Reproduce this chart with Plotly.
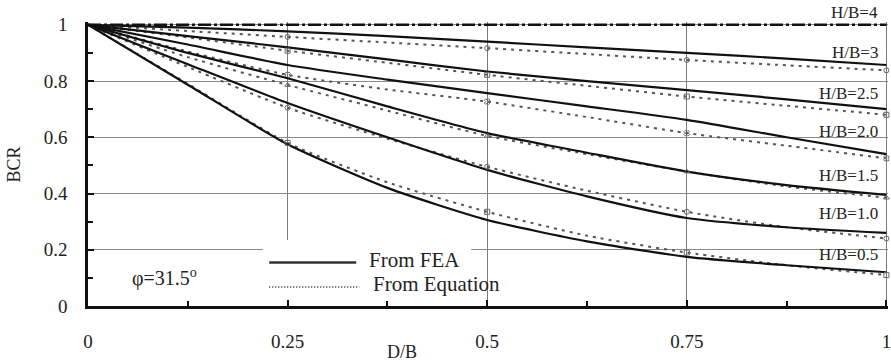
import plotly.graph_objects as go

# D/B positions where BCR was evaluated
d_over_b = [0.0, 0.125, 0.25, 0.375, 0.5, 0.625, 0.75, 0.875, 1.0]

# BCR from finite element analysis
fea_hb4 = [1.0, 1.0, 1.0, 1.0, 1.0, 1.0, 1.0, 1.0, 1.0]
fea_hb3 = [1.0, 0.990, 0.977, 0.960, 0.940, 0.920, 0.900, 0.880, 0.857]
fea_hb25 = [1.0, 0.960, 0.920, 0.877, 0.834, 0.800, 0.768, 0.735, 0.700]
fea_hb2 = [1.0, 0.930, 0.857, 0.805, 0.757, 0.710, 0.662, 0.600, 0.540]
fea_hb15 = [1.0, 0.900, 0.810, 0.710, 0.615, 0.545, 0.478, 0.430, 0.395]
fea_hb1 = [1.0, 0.860, 0.722, 0.600, 0.484, 0.390, 0.313, 0.280, 0.260]
fea_hb05 = [1.0, 0.787, 0.575, 0.420, 0.306, 0.230, 0.175, 0.145, 0.120]

# BCR from the design equation
eq_hb3 = [1.0, 0.978, 0.957, 0.937, 0.917, 0.896, 0.875, 0.856, 0.838]
eq_hb25 = [1.0, 0.955, 0.908, 0.865, 0.822, 0.783, 0.745, 0.712, 0.680]
eq_hb2 = [1.0, 0.905, 0.822, 0.770, 0.727, 0.672, 0.615, 0.570, 0.525]
eq_hb15 = [1.0, 0.885, 0.786, 0.695, 0.605, 0.540, 0.478, 0.425, 0.385]
eq_hb1 = [1.0, 0.850, 0.705, 0.595, 0.495, 0.410, 0.335, 0.280, 0.240]
eq_hb05 = [1.0, 0.790, 0.580, 0.440, 0.335, 0.250, 0.190, 0.145, 0.110]

curve_labels = ["H/B=4", "H/B=3", "H/B=2.5", "H/B=2.0", "H/B=1.5", "H/B=1.0", "H/B=0.5"]
x_tick_vals = [0, 0.25, 0.5, 0.75, 1]
x_tick_text = ["0", "0.25", "0.5", "0.75", "1"]
y_tick_vals = [0, 0.2, 0.4, 0.6, 0.8, 1]
y_tick_text = ["0", "0.2", "0.4", "0.6", "0.8", "1"]

SERIF = "Liberation Serif, Times New Roman, serif"
INK = "#222222"

fea_sets = [fea_hb3, fea_hb25, fea_hb2, fea_hb15, fea_hb1, fea_hb05]
eq_sets = [eq_hb3, eq_hb25, eq_hb2, eq_hb15, eq_hb1, eq_hb05]
eq_symbols = ["circle-open", "square-open", "x-open", "triangle-up-open", "circle-open", "square-open"]

fig = go.Figure()

# H/B = 4: no reduction, dash-dot line
fig.add_trace(go.Scatter(
    x=d_over_b, y=fea_hb4, mode="lines",
    line=dict(color="#111111", width=2.6, dash="13px,3px,3px,3px"),
    showlegend=False, hoverinfo="skip"))

for fea, eq, sym in zip(fea_sets, eq_sets, eq_symbols):
    fig.add_trace(go.Scatter(
        x=d_over_b, y=eq, mode="lines",
        line=dict(color="#555555", width=2, dash="3px,5px", shape="spline", smoothing=0.6),
        showlegend=False, hoverinfo="skip"))
    fig.add_trace(go.Scatter(
        x=d_over_b, y=fea, mode="lines",
        line=dict(color="#111111", width=2.2, shape="spline", smoothing=0.6),
        showlegend=False, hoverinfo="skip"))
    # small open markers at the evaluated quarter points
    fig.add_trace(go.Scatter(
        x=d_over_b[2::2], y=eq[2::2], mode="markers",
        marker=dict(symbol=sym, size=5, color="#666666", line=dict(width=1, color="#666666")),
        showlegend=False, hoverinfo="skip", cliponaxis=False))

# H/B labels at the right end of each pair of curves (paper coordinates)
label_y = [1.032, 0.894, 0.750, 0.613, 0.461, 0.327, 0.180]
for txt, ly in zip(curve_labels, label_y):
    fig.add_annotation(x=0.99, y=ly, xref="paper", yref="paper", text=txt, showarrow=False,
                       xanchor="right", yanchor="middle",
                       font=dict(family=SERIF, size=17, color=INK))

# white panel behind the key
fig.add_shape(type="rect", xref="x", yref="y", x0=0.219, x1=0.48, y0=0.02, y1=0.235,
              fillcolor="white", line=dict(width=0), layer="between")

# key: FEA (solid) and equation (dotted)
fig.add_shape(type="line", xref="x", yref="y", x0=0.227, x1=0.336, y0=0.155, y1=0.155,
              line=dict(color="#333333", width=2.5))
fig.add_shape(type="line", xref="x", yref="y", x0=0.227, x1=0.340, y0=0.068, y1=0.068,
              line=dict(color="#555555", width=2, dash="1px,2px"))
fig.add_annotation(x=0.350, y=0.163, xref="x", yref="y", text="From FEA", showarrow=False,
                   xanchor="left", yanchor="middle", font=dict(family=SERIF, size=21, color=INK))
fig.add_annotation(x=0.354, y=0.078, xref="x", yref="y", text="From Equation", showarrow=False,
                   xanchor="left", yanchor="middle", font=dict(family=SERIF, size=21, color=INK))

# friction angle note
fig.add_annotation(x=0.052, y=0.103, xref="x", yref="y", text="\u03c6=31.5<sup>o</sup>",
                   showarrow=False, xanchor="left", yanchor="middle",
                   font=dict(family=SERIF, size=20, color=INK))

# axis titles
fig.add_annotation(x=0.392, y=-0.162, xref="paper", yref="paper", text="D/B", showarrow=False,
                   xanchor="center", yanchor="middle", font=dict(family=SERIF, size=18, color=INK))
fig.add_annotation(x=-0.092, y=0.5, xref="paper", yref="paper", text="BCR", showarrow=False,
                   xanchor="center", yanchor="middle", textangle=-90,
                   font=dict(family=SERIF, size=18, color=INK))

fig.update_layout(
    width=891, height=363,
    margin=dict(l=88, r=3, t=22, b=57, autoexpand=False),
    paper_bgcolor="white", plot_bgcolor="white",
    showlegend=False,
)

fig.update_xaxes(
    range=[0, 1.002], tickvals=x_tick_vals, ticktext=x_tick_text,
    showgrid=True, gridcolor="#7a7a7a", gridwidth=1,
    showline=True, linecolor="#111111", linewidth=2.5,
    ticks="inside", ticklen=6, tickcolor="#111111", tickwidth=2,
    minor=dict(dtick=0.125, tick0=0, ticks="inside", ticklen=5, tickcolor="#111111", tickwidth=2, showgrid=False),
    tickfont=dict(family=SERIF, size=19, color=INK), ticklabelstandoff=16,
    ticklabeloverflow="allow",
    zeroline=False, fixedrange=True,
)
fig.update_yaxes(
    range=[0, 1.01], tickvals=y_tick_vals, ticktext=y_tick_text,
    showgrid=True, gridcolor="#8a8a8a", gridwidth=1,
    showline=True, linecolor="#111111", linewidth=2.5,
    ticks="inside", ticklen=6, tickcolor="#111111", tickwidth=2,
    minor=dict(dtick=0.1, tick0=0, ticks="inside", ticklen=5, tickcolor="#111111", tickwidth=2, showgrid=False),
    tickfont=dict(family=SERIF, size=19, color=INK), ticklabelstandoff=14,
    zeroline=False, fixedrange=True,
)

fig.write_html("out.html")
